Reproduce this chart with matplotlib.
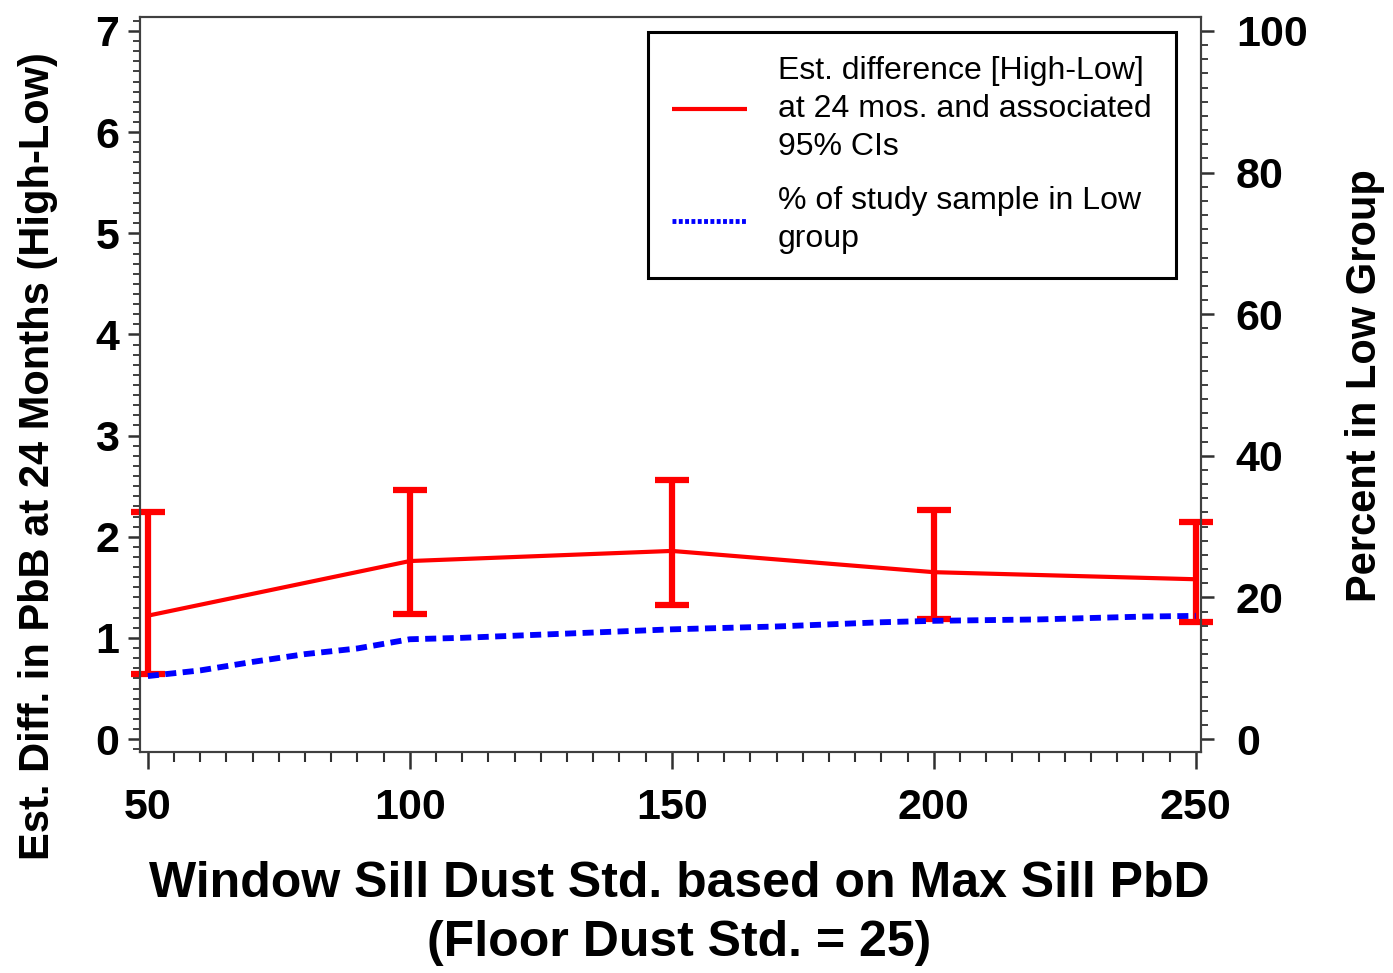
import numpy as np
import matplotlib
matplotlib.use('Agg')
import matplotlib.pyplot as plt
from matplotlib.ticker import MultipleLocator

plt.rcParams['font.family'] = ['Liberation Sans', 'DejaVu Sans']

# ── DATA ─────────────────────────────────────────────────────────────────────
std_points = [50, 100, 150, 200, 250]
est_diff = [1.22, 1.76, 1.86, 1.65, 1.58]
ci_low = [0.64, 1.24, 1.33, 1.19, 1.16]
ci_high = [2.24, 2.46, 2.56, 2.26, 2.15]

pct_std = [50, 60, 70, 80, 90, 100, 110, 120, 130, 140, 150,
           160, 170, 180, 190, 200, 210, 220, 230, 240, 250]
pct_low = [8.9, 9.7, 10.9, 12.0, 12.8, 14.1, 14.3, 14.6, 14.9, 15.2, 15.5,
           15.7, 15.9, 16.2, 16.5, 16.7, 16.8, 16.9, 17.1, 17.3, 17.4]

lbl_red = "Est. difference [High-Low]\nat 24 mos. and associated\n95% CIs"
lbl_blue = "% of study sample in Low\ngroup"

# ── FIGURE ───────────────────────────────────────────────────────────────────
fig = plt.figure(figsize=(13.93, 9.73), dpi=100)
ax = fig.add_axes([0.1005, 0.2271, 0.7617, 0.7554])
ax2 = ax.twinx()

red_line, = ax.plot(std_points, est_diff, color='#ff0000', lw=3,
                    solid_capstyle='butt', label=lbl_red, clip_on=False)
lower = np.array(est_diff) - np.array(ci_low)
upper = np.array(ci_high) - np.array(est_diff)
eb = ax.errorbar(std_points, est_diff, yerr=[lower, upper], fmt='none',
                 ecolor='#ff0000', elinewidth=4.5, capsize=12, capthick=4.5)
for part in eb.lines:
    for a in (part if isinstance(part, tuple) else [part]):
        if a is not None:
            a.set_clip_on(False)

blue_line, = ax2.plot(pct_std, pct_low, color='#0000ff', lw=4.2,
                      linestyle=(0, (1.9, 1.1)), dash_capstyle='butt',
                      label=lbl_blue, clip_on=False)

ax.set_xlim(48.5, 251)
ax.set_ylim(-0.128, 7.138)
ax2.set_ylim(-0.128 * 100 / 7, 7.138 * 100 / 7)

ax.xaxis.set_major_locator(MultipleLocator(50))
ax.xaxis.set_minor_locator(MultipleLocator(5))
ax.yaxis.set_major_locator(MultipleLocator(1))
ax.yaxis.set_minor_locator(MultipleLocator(0.1))
ax2.yaxis.set_major_locator(MultipleLocator(20))
ax2.yaxis.set_minor_locator(MultipleLocator(2))

for a in (ax, ax2):
    for sp in a.spines.values():
        sp.set_color('#404040')
        sp.set_linewidth(1.5)

ax.tick_params(axis='x', which='major', length=12, width=1.8, pad=14,
               labelsize=31, color='#303030')
ax.tick_params(axis='x', which='minor', length=7, width=1.5, color='#303030')
ax.tick_params(axis='y', which='major', length=9, width=1.8, pad=6,
               labelsize=31, color='#303030')
ax.tick_params(axis='y', which='minor', length=5, width=1.3, color='#303030')
ax2.tick_params(axis='y', which='major', length=9, width=1.8, pad=16,
                labelsize=31, color='#303030')
ax2.tick_params(axis='y', which='minor', length=5, width=1.3, color='#303030')
for lab in ax.get_xticklabels() + ax.get_yticklabels() + ax2.get_yticklabels():
    lab.set_fontweight('bold')

ax.set_xlabel("Window Sill Dust Std. based on Max Sill PbD\n(Floor Dust Std. = 25)",
              fontsize=36, fontweight='bold', linespacing=1.38)
ax.xaxis.set_label_coords(0.508, -0.148)
ax.set_ylabel("Est. Diff. in PbB at 24 Months (High-Low)",
              fontsize=30, fontweight='bold')
ax.yaxis.set_label_coords(-0.077, 0.403)
ax2.set_ylabel("Percent in Low Group", fontsize=30, fontweight='bold')
ax2.yaxis.set_label_coords(1.136, 0.499)

leg = ax2.legend(handles=[red_line, blue_line], loc='upper right',
                 bbox_to_anchor=(0.976, 0.98), fontsize=23, fancybox=False,
                 framealpha=1, edgecolor='black', handlelength=2.35,
                 borderpad=0.75, labelspacing=0.75, handletextpad=0.97,
                 borderaxespad=0)
leg.get_frame().set_linewidth(2.2)
for t in leg.get_texts():
    t.set_linespacing(1.36)
leg.legend_handles[0].set_linewidth(3)
leg.legend_handles[1].set_linestyle((0, (0.8, 0.5)))
leg.legend_handles[1].set_linewidth(3.5)

fig.savefig('out.png', dpi=100)
